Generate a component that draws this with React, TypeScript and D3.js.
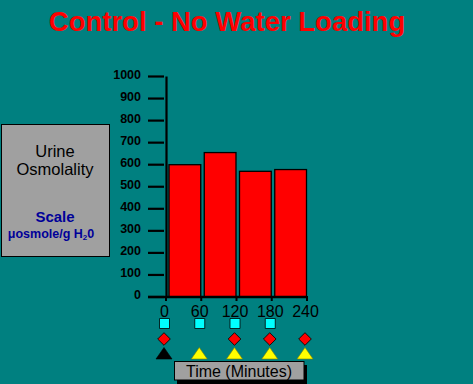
import React from "react";
import * as d3 from "d3";

// chart values
const barTimes = [0, 60, 120, 180];
const osmolality = [600, 655, 570, 578];
const timeTicks = [0, 60, 120, 180, 240];
const squareTimes = [0, 60, 120, 180];
const diamondTimes = [0, 120, 180, 240];
const triangleTimes = [0, 60, 120, 180, 240];
const triangleColors = ["#000000", "#FFFF00", "#FFFF00", "#FFFF00", "#FFFF00"];

const W = 473;
const H = 384;
const FONT = "'Liberation Sans', Arial, sans-serif";

const App = () => {
  const x = d3.scaleLinear().domain([0, 240]).range([166, 307]);
  const y = d3.scaleLinear().domain([0, 1000]).range([297, 76.5]);
  const yTicks = y.ticks(10);

  const square = d3.symbol().type(d3.symbolSquare).size(100);
  const diamond = d3.symbol().type(d3.symbolSquare).size(80);
  const tri = d3.line()([
    [0, -6],
    [8, 5.5],
    [-8, 5.5],
  ]) + "Z";

  return (
    <svg width={W} height={H} style={{ position: "absolute", left: 0, top: 0 }} fontFamily={FONT}>
      <rect width={W} height={H} fill="#008080" />

      {/* title */}
      <text x={227} y={31} textAnchor="middle" fontSize={27.5} fontWeight="bold" fill="#FF0000">
        Control - No Water Loading
      </text>

      {/* left legend box */}
      <rect x={1.5} y={124.5} width={108} height={132} fill="#A0A0A0" stroke="#000" strokeWidth={1} />
      <text x={55} y={157} textAnchor="middle" fontSize={16.5} fill="#000">Urine</text>
      <text x={55} y={175} textAnchor="middle" fontSize={16.5} fill="#000">Osmolality</text>
      <text x={55} y={222} textAnchor="middle" fontSize={15} fontWeight="bold" fill="#000099">Scale</text>
      <text x={51} y={238} textAnchor="middle" fontSize={12.5} fontWeight="bold" fill="#000099">
        μosmole/g H<tspan fontSize={8} dy={2}>2</tspan><tspan dy={-2}>0</tspan>
      </text>

      {/* bars */}
      {barTimes.map((t, i) => (
        <rect
          key={t}
          x={x(t) + 3}
          y={y(osmolality[i])}
          width={x(t + 60) - x(t) - 3.5}
          height={y(0) - y(osmolality[i])}
          fill="#FF0000"
          stroke="#000"
          strokeWidth={1.3}
        />
      ))}

      {/* y axis */}
      {yTicks.map((v) => (
        <g key={v}>
          <line x1={148} x2={164} y1={y(v)} y2={y(v)} stroke="#000" strokeWidth={2.2} />
          <text x={141} y={y(v) - 2} dy="0.35em" textAnchor="end" fontSize={12.5} fontWeight="bold" fill="#000">
            {v}
          </text>
        </g>
      ))}
      <line x1={x(0) + 0.5} x2={x(0) + 0.5} y1={y(1000)} y2={y(0)} stroke="#000" strokeWidth={2.2} />

      {/* x axis */}
      <line x1={148} x2={x(240)} y1={y(0)} y2={y(0)} stroke="#000" strokeWidth={2.5} />
      {timeTicks.map((t) => (
        <g key={t}>
          <line x1={x(t)} x2={x(t)} y1={y(0) - 1} y2={y(0) + 4} stroke="#000" strokeWidth={2} />
          <text x={x(t) - 1.5} y={316.5} textAnchor="middle" fontSize={16} fill="#000">
            {t}
          </text>
        </g>
      ))}

      {/* markers */}
      {squareTimes.map((t) => (
        <path key={t} transform={`translate(${x(t) - 1.5},${323.5})`} d={square()!} fill="#00FFFF" stroke="#000" strokeWidth={0.8} />
      ))}
      {diamondTimes.map((t) => (
        <path key={t} transform={`translate(${x(t) - 2},${339}) rotate(45)`} d={diamond()!} fill="#FF0000" stroke="#000" strokeWidth={0.8} />
      ))}
      {triangleTimes.map((t, i) => (
        <path key={t} transform={`translate(${x(t) - 2},${353.5})`} d={tri} fill={triangleColors[i]} stroke={i === 0 ? "#000" : "#808000"} strokeWidth={0.6} />
      ))}

      {/* x axis title box */}
      <rect x={177} y={365} width={130} height={22} fill="#000" />
      <rect x={174.5} y={361.5} width={129.5} height={18.5} fill="#A0A0A0" stroke="#000" strokeWidth={1} />
      <text x={239} y={376.5} textAnchor="middle" fontSize={16} fill="#000">Time (Minutes)</text>
    </svg>
  );
};

export default App;
